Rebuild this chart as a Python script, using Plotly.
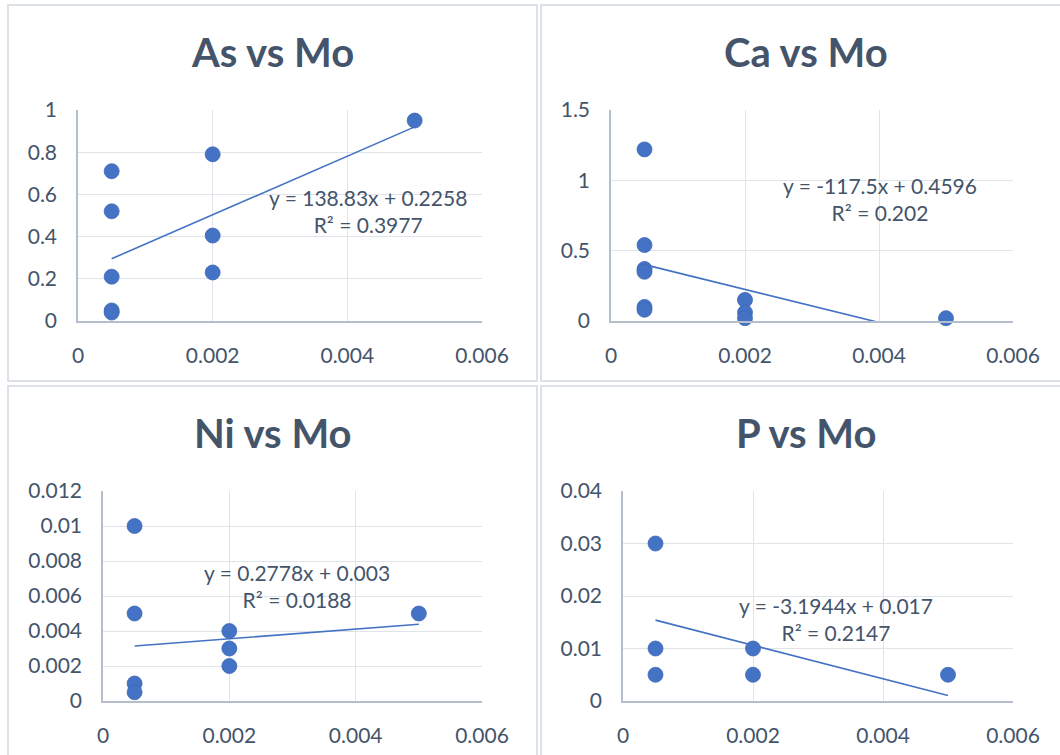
"""Scatter charts of element concentration vs Mo, with linear trendlines."""

import plotly.graph_objects as go

# Mo concentrations (x) and element concentrations (y)
as_x = [0.0005, 0.0005, 0.0005, 0.0005, 0.0005, 0.002, 0.002, 0.002, 0.005]
as_y = [0.71, 0.52, 0.21, 0.05, 0.04, 0.79, 0.405, 0.23, 0.95]

ca_x = [0.0005, 0.0005, 0.0005, 0.0005, 0.0005, 0.0005, 0.002, 0.002, 0.002, 0.005]
ca_y = [1.22, 0.54, 0.37, 0.35, 0.10, 0.08, 0.15, 0.06, 0.02, 0.02]

ni_x = [0.0005, 0.0005, 0.0005, 0.0005, 0.002, 0.002, 0.002, 0.005]
ni_y = [0.010, 0.005, 0.001, 0.0005, 0.004, 0.003, 0.002, 0.005]

p_x = [0.0005, 0.0005, 0.0005, 0.002, 0.002, 0.005]
p_y = [0.03, 0.01, 0.005, 0.01, 0.005, 0.005]

# Trendline fits shown on each chart: (slope, intercept, r2)
as_fit = (138.83, 0.2258, 0.3977)
ca_fit = (-117.5, 0.4596, 0.202)
ni_fit = (0.2778, 0.003, 0.0188)
p_fit = (-3.1944, 0.017, 0.2147)

# Axis ticks
x_ticks = [0, 0.002, 0.004, 0.006]
x_labels = ["0", "0.002", "0.004", "0.006"]
as_ticks = [0, 0.2, 0.4, 0.6, 0.8, 1]
as_labels = ["0", "0.2", "0.4", "0.6", "0.8", "1"]
ca_ticks = [0, 0.5, 1, 1.5]
ca_labels = ["0", "0.5", "1", "1.5"]
ni_ticks = [0, 0.002, 0.004, 0.006, 0.008, 0.01, 0.012]
ni_labels = ["0", "0.002", "0.004", "0.006", "0.008", "0.01", "0.012"]
p_ticks = [0, 0.01, 0.02, 0.03, 0.04]
p_labels = ["0", "0.01", "0.02", "0.03", "0.04"]

W, H = 1060, 755
BLUE = "#4472C4"
TEXT = "#44546A"
GRID = "#DFE3EA"
AXIS = "#B4BECC"
FONT = "Lato"


def px(x):
    return x / W


def py(y):
    return 1 - y / H


fig = go.Figure()


def add_panel(n, name, xs, ys, fit, yticks, ylabels, box, plot, title_xy, eq_xy):
    """box/plot are pixel rectangles (left, top, right, bottom)."""
    xa = "x" if n == 1 else f"x{n}"
    ya = "y" if n == 1 else f"y{n}"
    slope, intercept, r2 = fit

    # panel border
    fig.add_shape(
        type="rect", xref="paper", yref="paper",
        x0=px(box[0]), x1=px(box[2]), y0=py(box[3]), y1=py(box[1]),
        line=dict(color="#DDE2E9", width=2), fillcolor="rgba(0,0,0,0)", layer="below",
    )

    # trendline over the data's x span
    lx = [min(xs), max(xs)]
    ly = [slope * v + intercept for v in lx]
    fig.add_trace(
        go.Scatter(x=lx, y=ly, mode="lines", line=dict(color=BLUE, width=1.6),
                   xaxis=xa, yaxis=ya, showlegend=False, hoverinfo="skip")
    )
    fig.add_trace(
        go.Scatter(
            x=xs, y=ys, mode="markers", name=name,
            marker=dict(color=BLUE, size=15, line=dict(color="#3F68B5", width=0.8)),
            xaxis=xa, yaxis=ya, showlegend=False, cliponaxis=False,
        )
    )

    axis_common = dict(
        showgrid=True, gridcolor=GRID, gridwidth=1.3, zeroline=False,
        showline=True, linecolor=AXIS, linewidth=1.5, automargin=False,
        ticks="", tickfont=dict(family=FONT, size=21, color=TEXT),
        ticklabelstandoff=15, fixedrange=True,
    )
    fig.layout[f"xaxis{'' if n == 1 else n}"] = dict(
        axis_common, domain=[px(plot[0]), px(plot[2])], anchor=ya,
        range=[0, 0.006], tickvals=x_ticks, ticktext=x_labels,
    )
    fig.layout[f"yaxis{'' if n == 1 else n}"] = dict(
        axis_common, domain=[py(plot[3]), py(plot[1])], anchor=xa,
        range=[yticks[0], yticks[-1]], tickvals=yticks, ticktext=ylabels,
    )

    fig.add_annotation(
        x=px(title_xy[0]), y=py(title_xy[1]), xref="paper", yref="paper",
        xanchor="center", yanchor="middle",
        text=f"<b>{name} vs Mo</b>", showarrow=False,
        font=dict(family=FONT, size=40, color=TEXT),
    )
    sign = "+" if intercept >= 0 else "-"
    fig.add_annotation(
        x=eq_xy[0], y=eq_xy[1], xref=xa, yref=ya, showarrow=False,
        xanchor="center", yanchor="middle",
        text=f"y = {slope:g}x {sign} {abs(intercept):g}<br>R² = {r2:g}",
        font=dict(family=FONT, size=21, color=TEXT), align="center",
    )


add_panel(1, "As", as_x, as_y, as_fit, as_ticks, as_labels,
          (8, 5, 537, 381), (78, 110, 482, 321), (272, 52), (0.00431, 0.52))
add_panel(2, "Ca", ca_x, ca_y, ca_fit, ca_ticks, ca_labels,
          (541, 5, 1062, 381), (611, 110, 1013, 321), (806, 52), (0.00402, 0.867))
add_panel(3, "Ni", ni_x, ni_y, ni_fit, ni_ticks, ni_labels,
          (8, 386, 537, 762), (103, 491, 482, 701), (273, 433), (0.00307, 0.00657))
add_panel(4, "P", p_x, p_y, p_fit, p_ticks, p_labels,
          (541, 386, 1062, 762), (623, 491, 1013, 701), (806, 433), (0.00328, 0.0156))

fig.update_layout(
    width=W,
    height=H,
    margin=dict(l=0, r=0, t=0, b=0, autoexpand=False),
    paper_bgcolor="white",
    plot_bgcolor="white",
    showlegend=False,
)

# drop the page's default body margin so the figure sits at the window corner
fig.write_html(
    "out.html",
    config={"displayModeBar": False},
    post_script="document.body.style.margin = '0';",
)
